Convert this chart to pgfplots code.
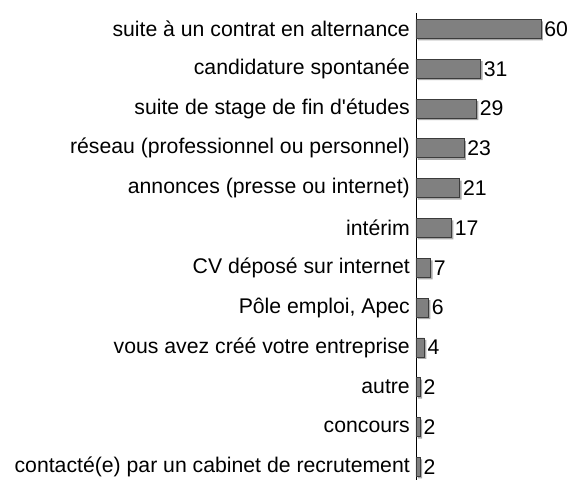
\documentclass[border=0pt]{standalone}
\usepackage{fontspec}
\setmainfont{Liberation Sans}
\usepackage{pgfplots}
\pgfplotsset{compat=1.18}
\definecolor{barfill}{RGB}{128,128,128}
\definecolor{baredge}{RGB}{60,60,60}
\definecolor{barshadow}{RGB}{170,170,170}

\pgfplotstableread{
idx val
0 2
1 2
2 2
3 4
4 6
5 7
6 17
7 21
8 23
9 29
10 31
11 60
}\modes

\begin{document}
\begin{tikzpicture}
\begin{axis}[
  at={(0,0)}, anchor=south west,
  scale only axis,
  width=145.8bp, height=467bp,
  xmin=0, xmax=70,
  ymin=-0.33, ymax=11.4,
  axis x line=none,
  axis y line=left,
  y axis line style={-, black, line width=0.8pt},
  major tick length=0pt,
  ytick={0,...,11},
  yticklabels={
    {contacté(e) par un cabinet de recrutement},
    {concours},
    {autre},
    {vous avez créé votre entreprise},
    {Pôle emploi, Apec},
    {CV déposé sur internet},
    {intérim},
    {annonces (presse ou internet)},
    {réseau (professionnel ou personnel)},
    {suite de stage de fin d\textquotesingle études},
    {candidature spontanée},
    {suite à un contrat en alternance}},
  yticklabel style={font=\fontsize{21.3}{25}\selectfont, inner sep=0pt, xshift=-6bp},
  xbar, bar width=19bp, bar shift=0pt,
  nodes near coords,
  /pgf/number format/assume math mode=true,
  nodes near coords style={font=\fontsize{21.3}{25}\selectfont, anchor=west, inner sep=3pt, text=black},
  clip=false,
]
\addplot[fill=barshadow, draw=none, xshift=2bp, yshift=-2bp, nodes near coords={}] table[x=val, y=idx] {\modes};
\addplot[fill=barfill, draw=baredge, line width=0.8pt] table[x=val, y=idx] {\modes};
\end{axis}
\pgfresetboundingbox
\path[use as bounding box] (-416bp,0) rectangle (156bp,480bp);
\end{tikzpicture}
\end{document}
